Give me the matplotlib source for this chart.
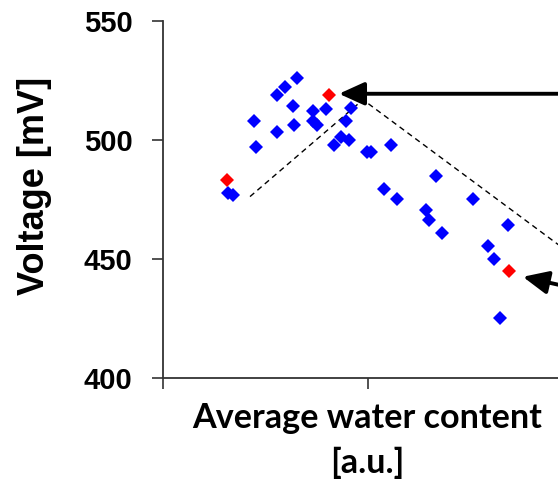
import matplotlib
matplotlib.use("Agg")
import matplotlib.pyplot as plt

# Data (x in arbitrary units, y in mV)
blue_x = [0.316, 0.340, 0.442, 0.452, 0.555, 0.594, 0.652, 0.555, 0.633, 0.638,
          0.730, 0.730, 0.750, 0.794, 0.916, 0.891, 0.867, 0.906, 0.833, 0.994,
          1.011, 1.113, 1.330, 1.077, 1.140, 1.511, 1.281, 1.296, 1.360, 1.681,
          1.584, 1.613, 1.643]
blue_y = [477.7, 476.9, 508.0, 497.1, 518.9, 522.3, 526.1, 503.4, 514.3, 506.3,
          512.2, 508.0, 506.3, 513.0, 513.4, 507.8, 501.3, 500.0, 497.9, 494.7,
          494.7, 497.9, 484.9, 479.4, 475.2, 475.2, 470.6, 466.4, 460.9, 464.3,
          455.5, 450.0, 425.2]
red_x = [0.311, 0.808, 1.686]
red_y = [483.2, 518.9, 445.0]

guide_x = [0.423, 0.974, 1.93]
guide_y = [476.1, 516.8, 455.7]

arrow1_tip = (0.857, 519.3)
arrow1_tail = (2.2, 519.3)
arrow2_tip = (1.754, 442.4)
arrow2_tail = (2.2, 433.8)

yticks = [400, 450, 500, 550]
xticks = [0, 1]

fig = plt.figure(figsize=(5.58, 4.84), dpi=100)
ax = fig.add_axes([163.3 / 558, 106.3 / 484, 1 - 163.3 / 558, (377.7 - 20.7) / 484])

ax.plot(guide_x, guide_y, color="black", lw=1.0, ls=(0, (4, 3)), zorder=1)
ax.plot(blue_x, blue_y, ls="none", marker="D", ms=6.8, mew=0, color="#0000FF", zorder=3)
ax.plot(red_x, red_y, ls="none", marker="D", ms=6.8, mew=0, color="#FF0000", zorder=3)

for tip, tail in [(arrow1_tip, arrow1_tail), (arrow2_tip, arrow2_tail)]:
    ax.annotate("", xy=tip, xytext=tail, annotation_clip=False,
                arrowprops=dict(arrowstyle="-|>,head_length=1.1,head_width=0.5",
                                lw=2.8, color="black", mutation_scale=14,
                                shrinkA=0, shrinkB=0))

ax.set_xlim(0, (558 - 163.3) / 205)
ax.set_ylim(400, 550)
ax.set_yticks(yticks)
ax.set_xticks(xticks)
ax.set_xticklabels([])
ax.set_yticklabels([str(t) for t in yticks], fontfamily="Liberation Sans",
                   fontweight="bold", fontsize=21)

for s in ["top", "right"]:
    ax.spines[s].set_visible(False)
for s in ["left", "bottom"]:
    ax.spines[s].set_color("#333333")
    ax.spines[s].set_linewidth(1.3)
ax.tick_params(direction="out", length=8, width=1.2, color="#333333", pad=14)

ax.set_ylabel("Voltage [mV]", fontfamily="Liberation Sans", fontweight="bold",
              fontsize=26)
ax.yaxis.set_label_coords(-0.282, 0.538)
ax.set_xlabel("Average water content\n[a.u.]", fontfamily="Lato", fontweight="bold",
              fontsize=24.6, linespacing=1.49, va="baseline")
ax.xaxis.set_label_coords(0.516, -0.267)

fig.savefig("out.png", dpi=100)
